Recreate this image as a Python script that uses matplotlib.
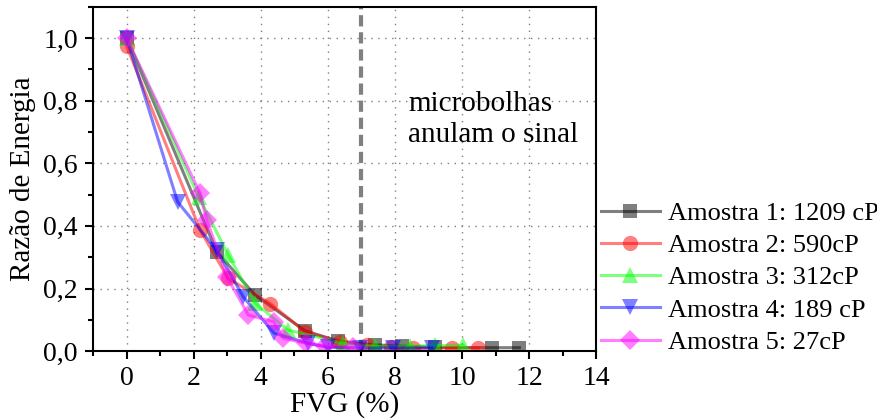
import numpy as np
import matplotlib
matplotlib.use('Agg')
import matplotlib.pyplot as plt
from matplotlib.ticker import MultipleLocator

plt.rcParams['font.family'] = ['Liberation Serif', 'DejaVu Serif']
plt.rcParams['font.size'] = 20

# Dados

x1 = [0, 2.69, 3.83, 5.32, 6.31, 7.41, 8.2, 9.19, 10.88, 11.71]
y1 = [1.0, 0.317, 0.179, 0.065, 0.032, 0.02, 0.016, 0.012, 0.011, 0.011]

x2 = [0, 2.19, 3.03, 4.28, 5.32, 6.36, 7.16, 7.87, 8.55, 9.69, 10.49]
y2 = [0.975, 0.387, 0.232, 0.152, 0.062, 0.03, 0.018, 0.012, 0.01, 0.01, 0.01]

x3 = [0, 2.15, 3.03, 3.83, 4.8, 6.45, 7.4, 8.45, 9.2, 10.04]
y3 = [1.0, 0.493, 0.307, 0.154, 0.068, 0.025, 0.015, 0.016, 0.018, 0.018]

x4 = [0, 1.52, 2.69, 3.48, 4.4, 5.42, 6.0, 6.96, 7.95, 9.1]
y4 = [1.0, 0.477, 0.322, 0.173, 0.057, 0.025, 0.012, 0.01, 0.01, 0.01]

x5 = [0, 2.19, 2.39, 2.99, 3.63, 4.38, 4.67, 5.35, 5.92, 6.76]
y5 = [1.0, 0.504, 0.419, 0.237, 0.115, 0.094, 0.041, 0.025, 0.016, 0.012]

rotulos = ['Amostra 1: 1209 cP', 'Amostra 2: 590cP', 'Amostra 3: 312cP',
           'Amostra 4: 189 cP', 'Amostra 5: 27cP']
cores = ['#000000', '#FF0000', '#00FF00', '#0000FF', '#FF00FF']
marcadores = ['s', 'o', '^', 'v', 'D']
tamanhos = [10, 11, 11, 11, 10]

series = [(x1, y1), (x2, y2), (x3, y3), (x4, y4), (x5, y5)]

fig = plt.figure(figsize=(8.78, 4.2), dpi=100)
ax = fig.add_axes([0.106, 0.164, 0.573, 0.820])

for (x, y), cor, m, ms, rot in zip(series, cores, marcadores, tamanhos, rotulos):
    ax.plot(x, y, color=cor, alpha=0.5, lw=2.2, marker=m, markersize=ms,
            markeredgewidth=0, label=rot)

# Linha limite das microbolhas
ax.axvline(7, color='#808080', lw=3, linestyle=(0, (2.7, 1.4)), zorder=0)
ax.text(8.4, 0.79, 'microbolhas', fontsize=21, va='center')
ax.text(8.4, 0.69, 'anulam o sinal', fontsize=21, va='center')

ax.set_xlim(-1, 14)
ax.set_ylim(0, 1.1)
ax.xaxis.set_major_locator(MultipleLocator(2))
ax.xaxis.set_minor_locator(MultipleLocator(1))
ax.yaxis.set_major_locator(MultipleLocator(0.2))
ax.yaxis.set_minor_locator(MultipleLocator(0.1))
ax.yaxis.set_major_formatter(plt.FuncFormatter(lambda v, p: ('%.1f' % v).replace('.', ',')))

ax.grid(True, which='major', linestyle=(0, (1, 4)), color='#808080', lw=1)
ax.set_axisbelow(True)

ax.tick_params(which='major', direction='out', length=6, width=1.5, labelsize=20, pad=5)
ax.tick_params(which='minor', direction='out', length=3.5, width=1.5)
for s in ax.spines.values():
    s.set_linewidth(1.5)

ax.set_xlabel('FVG (%)', fontsize=21, labelpad=0)
ax.set_ylabel('Razão de Energia', fontsize=21, labelpad=5)

fig.legend(loc='upper left', bbox_to_anchor=(0.672, 0.545), frameon=False,
           handlelength=2.25, handletextpad=0.3, labelspacing=0.33,
           borderaxespad=0, fontsize=19)

plt.savefig('out.png', dpi=100)
